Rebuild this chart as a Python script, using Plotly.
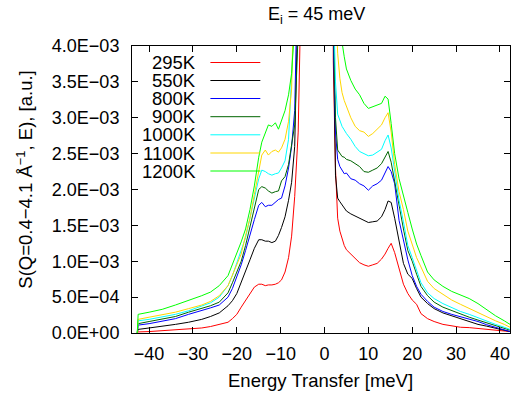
import numpy as np
import plotly.graph_objects as go

# Energy transfer grid [meV]
energy = [-42.7, -42.5, -40, -37, -34, -31, -28, -26, -24, -22, -21, -20, -19, -18, -17, -16, -15,
          -14.3, -13.5, -12.8, -12, -11.2, -10.5, -9.8, -9, -8.2, -7.5, -6.8, -6, -5, -3, 0,
          2, 2.5, 3, 3.5, 4, 4.5, 5, 6, 7, 8, 9, 10, 11, 12, 13, 13.8, 14.5, 15.2, 16, 17, 18,
          19, 20, 21, 22, 23.5, 25, 27, 29, 31, 33, 35, 37, 39, 41, 42.3]

# S(Q,E) values in units of 1E-03
s_295 = [0, 0.015, 0.02, 0.03, 0.04, 0.055, 0.07, 0.09, 0.12, 0.15, 0.2, 0.26, 0.36, 0.45, 0.55, 0.64, 0.68,
         0.68, 0.66, 0.67, 0.67, 0.68, 0.70, 0.74, 0.85, 1.05, 1.35, 1.9, 2.8, 4.6, 12, 60,
         3.8, 2.3, 1.6, 1.42, 1.3, 1.22, 1.16, 1.1, 1.04, 0.98, 0.95, 0.93, 0.95, 0.97, 1.03, 1.1, 1.18, 1.25, 1.12, 0.9, 0.68,
         0.55, 0.46, 0.4, 0.27, 0.2, 0.16, 0.12, 0.1, 0.08, 0.075, 0.065, 0.05, 0.04, 0.03, 0.02]
s_550 = [0, 0.05, 0.07, 0.09, 0.12, 0.15, 0.19, 0.23, 0.28, 0.38, 0.45, 0.55, 0.7, 0.85, 1.02, 1.18, 1.3,
         1.3, 1.28, 1.28, 1.26, 1.28, 1.36, 1.47, 1.62, 1.85, 2.1, 2.6, 4.0, 6.5, 13, 60,
         4.3, 2.2, 1.88, 1.83, 1.78, 1.73, 1.70, 1.66, 1.63, 1.6, 1.56, 1.54, 1.55, 1.56, 1.62, 1.72, 1.84, 1.82, 1.6, 1.3, 0.97,
         0.82, 0.76, 0.62, 0.5, 0.41, 0.34, 0.28, 0.24, 0.19, 0.15, 0.12, 0.095, 0.07, 0.04, 0.02]
s_800 = [0, 0.11, 0.13, 0.16, 0.2, 0.26, 0.31, 0.35, 0.39, 0.5, 0.62, 0.78, 0.95, 1.15, 1.38, 1.58, 1.78,
         1.82, 1.76, 1.78, 1.78, 1.83, 1.86, 1.88, 2.05, 2.3, 2.6, 3.1, 4.3, 7, 14, 60,
         4.2, 2.8, 2.42, 2.32, 2.26, 2.22, 2.23, 2.15, 2.13, 2.08, 2.05, 1.99, 2.05, 2.08, 2.13, 2.22, 2.32, 2.25, 2.08, 1.57, 1.27,
         1.02, 0.8, 0.65, 0.54, 0.44, 0.36, 0.3, 0.26, 0.23, 0.19, 0.16, 0.115, 0.08, 0.05, 0.02]
s_900 = [0, 0.13, 0.16, 0.19, 0.23, 0.29, 0.34, 0.38, 0.43, 0.56, 0.7, 0.85, 1.0, 1.22, 1.48, 1.72, 2.0,
         2.04, 2.02, 1.98, 1.95, 1.97, 1.98, 2.12, 2.18, 2.35, 2.6, 2.9, 4.2, 7, 14, 60,
         4.5, 3.0, 2.55, 2.50, 2.46, 2.45, 2.42, 2.40, 2.36, 2.32, 2.25, 2.24, 2.27, 2.30, 2.36, 2.45, 2.53, 2.38, 2.1, 1.76, 1.45,
         1.15, 1.0, 0.82, 0.65, 0.52, 0.43, 0.36, 0.31, 0.26, 0.22, 0.18, 0.14, 0.1, 0.06, 0.04]
s_1000 = [0, 0.17, 0.19, 0.22, 0.26, 0.31, 0.37, 0.42, 0.5, 0.66, 0.8, 0.97, 1.13, 1.33, 1.6, 1.9, 2.15,
          2.27, 2.25, 2.22, 2.2, 2.22, 2.23, 2.3, 2.4, 2.7, 3.4, 4.1, 5.5, 8, 15, 60,
          4.8, 3.5, 3.05, 2.95, 2.88, 2.83, 2.78, 2.70, 2.60, 2.53, 2.50, 2.47, 2.48, 2.52, 2.56, 2.68, 2.76, 2.58, 2.25, 1.85, 1.55,
          1.22, 1.05, 0.86, 0.7, 0.56, 0.48, 0.41, 0.35, 0.3, 0.26, 0.21, 0.16, 0.12, 0.08, 0.05]
s_1100 = [0, 0.19, 0.22, 0.25, 0.29, 0.34, 0.39, 0.44, 0.52, 0.66, 0.8, 0.95, 1.1, 1.36, 1.6, 1.93, 2.28,
          2.48, 2.55, 2.48, 2.53, 2.55, 2.52, 2.58, 2.7, 2.95, 3.4, 4.4, 5.8, 8.5, 16, 60,
          5.5, 4.6, 3.9, 3.55, 3.35, 3.24, 3.15, 3.0, 2.88, 2.82, 2.80, 2.74, 2.78, 2.84, 2.9, 3.0, 3.07, 2.8, 2.35, 1.97, 1.72,
          1.42, 1.24, 1.05, 0.92, 0.72, 0.62, 0.54, 0.46, 0.4, 0.34, 0.29, 0.23, 0.17, 0.12, 0.08]
s_1200 = [0, 0.26, 0.29, 0.33, 0.39, 0.45, 0.52, 0.57, 0.66, 0.8, 0.95, 1.12, 1.27, 1.45, 1.72, 2.05, 2.45,
          2.66, 2.8, 2.9, 2.88, 2.93, 2.84, 2.95, 3.1, 3.32, 3.62, 4.3, 5.5, 8, 15, 60,
          7, 6, 5.2, 4.5, 4.05, 3.85, 3.68, 3.52, 3.4, 3.32, 3.2, 3.13, 3.15, 3.18, 3.2, 3.3, 3.26, 2.92, 2.5, 2.15, 1.9,
          1.68, 1.45, 1.24, 1.08, 0.85, 0.74, 0.65, 0.58, 0.53, 0.48, 0.41, 0.32, 0.24, 0.17, 0.12]

labels = ["295K", "550K", "800K", "900K", "1000K", "1100K", "1200K"]
series = [s_295, s_550, s_800, s_900, s_1000, s_1100, s_1200]
colors = ["#ff0000", "#000000", "#0000ff", "#006400", "#00ffff", "#ffd700", "#00ff00"]

x_ticks = [-40, -30, -20, -10, 0, 10, 20, 30, 40]
y_ticks = [0, 0.0005, 0.001, 0.0015, 0.002, 0.0025, 0.003, 0.0035, 0.004]
y_ticktext = ["0.0E+00", "5.0E\u221204", "1.0E\u221203", "1.5E\u221203", "2.0E\u221203",
              "2.5E\u221203", "3.0E\u221203", "3.5E\u221203", "4.0E\u221203"]

FONT = "Liberation Sans, Arial, Helvetica, sans-serif"

fig = go.Figure()
for lab, vals, col in zip(labels, series, colors):
    fig.add_trace(go.Scatter(x=energy, y=np.array(vals) * 1e-3, mode="lines",
                             line=dict(color=col, width=1), name=lab, showlegend=False))

# gnuplot-style key: label right-aligned, sample line to its right
W, H = 512, 394
L, R, T, B = 131.5, 2, 46, 61
pw, ph = W - L - R, H - T - B
row_y = [62.5, 80.5, 98.5, 116.7, 134.8, 153, 171]
for lab, col, yy in zip(labels, colors, row_y):
    yp = 1 - (yy - T) / ph
    fig.add_annotation(x=(198 - L) / pw, y=yp, xref="paper", yref="paper", text=lab,
                       showarrow=False, xanchor="right", yanchor="middle",
                       font=dict(family=FONT, size=18.5, color="black"))
    fig.add_shape(type="line", xref="paper", yref="paper",
                  x0=(210 - L) / pw, x1=(260 - L) / pw, y0=yp, y1=yp,
                  line=dict(color=col, width=1))

fig.add_annotation(x=(316 - L) / pw, y=1 + (T - 16) / ph, xref="paper", yref="paper",
                   text="E<sub>i</sub> = 45 meV", showarrow=False, xanchor="center", yanchor="middle",
                   font=dict(family=FONT, size=18, color="black"))
fig.add_annotation(x=(320 - L) / pw, y=-(380 - T - ph) / ph, xref="paper", yref="paper",
                   text="Energy Transfer [meV]", showarrow=False, xanchor="center", yanchor="middle",
                   font=dict(family=FONT, size=18.5, color="black"))
fig.add_annotation(x=-(L - 24) / pw, y=1 - (180 - T) / ph, xref="paper", yref="paper",
                   text="S(Q=0.4\u22124.1 \u00c5<sup>\u22121</sup>, E), [a.u.]", textangle=-90,
                   showarrow=False, xanchor="center", yanchor="middle",
                   font=dict(family=FONT, size=18.5, color="black"))

axis_common = dict(showline=True, linecolor="black", linewidth=1, mirror="allticks",
                   ticks="inside", ticklen=6, tickcolor="black", tickwidth=1,
                   showgrid=False, zeroline=False,
                   tickfont=dict(family=FONT, size=18, color="black"))
fig.update_xaxes(range=[-43.9, 42.3], tickvals=x_ticks, ticklabelstandoff=4, **axis_common)
fig.update_yaxes(range=[0, 0.004], tickvals=y_ticks, ticktext=y_ticktext, ticklabelstandoff=8,
                 **axis_common)

fig.update_layout(width=W, height=H, margin=dict(l=L, r=R, t=T, b=B),
                  plot_bgcolor="white", paper_bgcolor="white",
                  font=dict(family=FONT, size=18, color="black"))

fig.write_html("out.html")
